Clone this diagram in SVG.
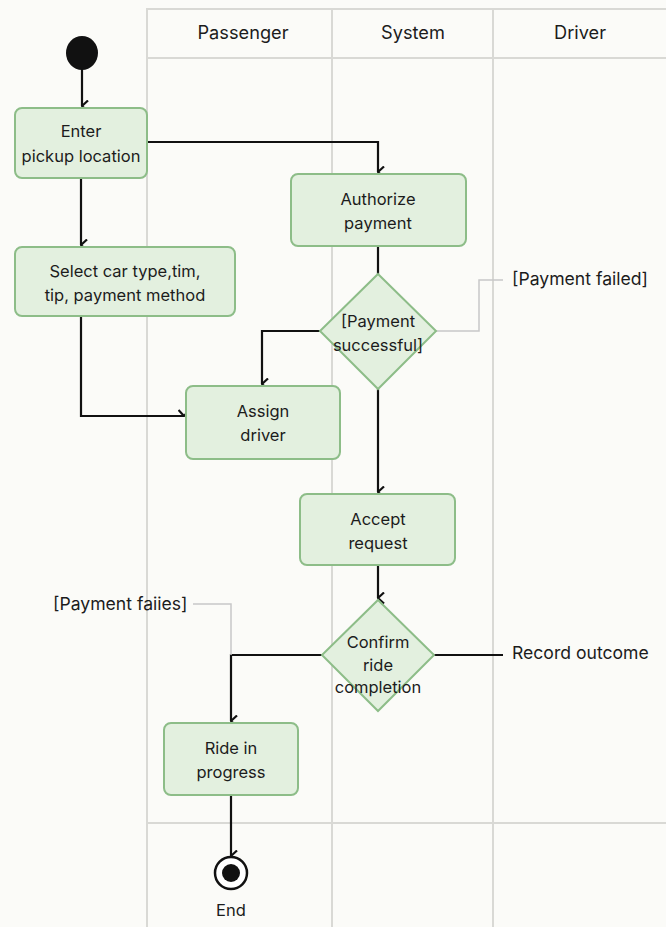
<svg xmlns="http://www.w3.org/2000/svg" width="666" height="927" viewBox="0 0 666 927">
  <style>
    text { font-family: Inter, "Noto Sans", "Liberation Sans", sans-serif; font-size: 16.5px; fill: #1c1c1c; text-anchor: middle; }
    .head { font-size: 18.2px; }
    .lbl { text-anchor: start; font-size: 17.6px; }
    .grid { stroke: #d9d9d5; stroke-width: 2; fill: none; }
    .act { fill: #e3f0df; stroke: #8dbd88; stroke-width: 2; }
    .flow { stroke: #111; stroke-width: 2.2; fill: none; }
    .guard { stroke: #c8c8c8; stroke-width: 1.5; fill: none; }
  </style>
  <defs>
    <marker id="arrow" viewBox="0 0 12 12" refX="6" refY="11" markerWidth="12" markerHeight="12" markerUnits="userSpaceOnUse" orient="auto-start-reverse">
      <path d="M0.5,5 L6,11 L11.5,5" fill="none" stroke="#111" stroke-width="2.2"/>
    </marker>
  </defs>

  <rect width="666" height="927" fill="#fbfbf8"/>

  <!-- swimlane grid -->
  <g id="lanes">
    <path class="grid" d="M147,927 V9 H666 M147,58 H666 M332,9 V927 M493,9 V927 M147,823 H666"/>
    <text class="head" x="243" y="39">Passenger</text>
    <text class="head" x="413" y="39">System</text>
    <text class="head" x="580" y="39">Driver</text>
  </g>

  <!-- connectors -->
  <g id="connectors">
    <path class="flow" d="M82,69 V106" marker-end="url(#arrow)"/>
    <path class="flow" d="M147,142 H378 V172" marker-end="url(#arrow)"/>
    <path class="flow" d="M81,178 V245" marker-end="url(#arrow)"/>
    <path class="flow" d="M81,316 V416 H184" marker-end="url(#arrow)"/>
    <path class="flow" d="M378,246 V274"/>
    <path class="flow" d="M320,331 H262 V384" marker-end="url(#arrow)"/>
    <path class="flow" d="M378,389 V492" marker-end="url(#arrow)"/>
    <path class="flow" d="M378,565 V598" marker-end="url(#arrow)"/>
    <path class="flow" d="M322,655 H231 V721" marker-end="url(#arrow)"/>
    <path class="flow" d="M434,655 H503"/>
    <path class="flow" d="M231,795 V856" marker-end="url(#arrow)"/>
    <path class="guard" d="M436,331 H479 V280 H503"/>
    <path class="guard" d="M193,604 H231 V655"/>
  </g>

  <!-- nodes -->
  <g id="start">
    <ellipse cx="82" cy="53" rx="16" ry="17" fill="#111"/>
  </g>

  <g id="enter-pickup">
    <rect class="act" x="15" y="108" width="132" height="70" rx="7"/>
    <text x="81" y="137">Enter</text>
    <text x="81" y="162">pickup location</text>
  </g>

  <g id="authorize-payment">
    <rect class="act" x="291" y="174" width="175" height="72" rx="7"/>
    <text x="378" y="205">Authorize</text>
    <text x="378" y="229">payment</text>
  </g>

  <g id="select-options">
    <rect class="act" x="15" y="247" width="220" height="69" rx="7"/>
    <text x="125" y="277">Select car type,tim,</text>
    <text x="125" y="301">tip, payment method</text>
  </g>

  <g id="payment-decision">
    <polygon class="act" points="378,274 436,331 378,389 320,331"/>
    <text x="378" y="327">[Payment</text>
    <text x="378" y="351">successful]</text>
  </g>

  <g id="assign-driver">
    <rect class="act" x="186" y="386" width="154" height="73" rx="7"/>
    <text x="263" y="417">Assign</text>
    <text x="263" y="441">driver</text>
  </g>

  <g id="accept-request">
    <rect class="act" x="300" y="494" width="155" height="71" rx="7"/>
    <text x="378" y="525">Accept</text>
    <text x="378" y="549">request</text>
  </g>

  <g id="confirm-decision">
    <polygon class="act" points="378,600 434,655 378,711 322,655"/>
    <text x="378" y="648">Confirm</text>
    <text x="378" y="671">ride</text>
    <text x="378" y="693">completion</text>
  </g>

  <g id="ride-in-progress">
    <rect class="act" x="164" y="723" width="134" height="72" rx="7"/>
    <text x="231" y="754">Ride in</text>
    <text x="231" y="778">progress</text>
  </g>

  <g id="end">
    <circle cx="231" cy="873" r="16" fill="#fff" stroke="#111" stroke-width="2.5"/>
    <circle cx="231" cy="873" r="9" fill="#111"/>
    <text x="231" y="916">End</text>
  </g>

  <!-- guard and note labels -->
  <g id="labels">
    <text class="lbl" x="512" y="285">[Payment failed]</text>
    <text class="lbl" x="53" y="610">[Payment faiies]</text>
    <text class="lbl" x="512" y="659">Record outcome</text>
  </g>
</svg>
